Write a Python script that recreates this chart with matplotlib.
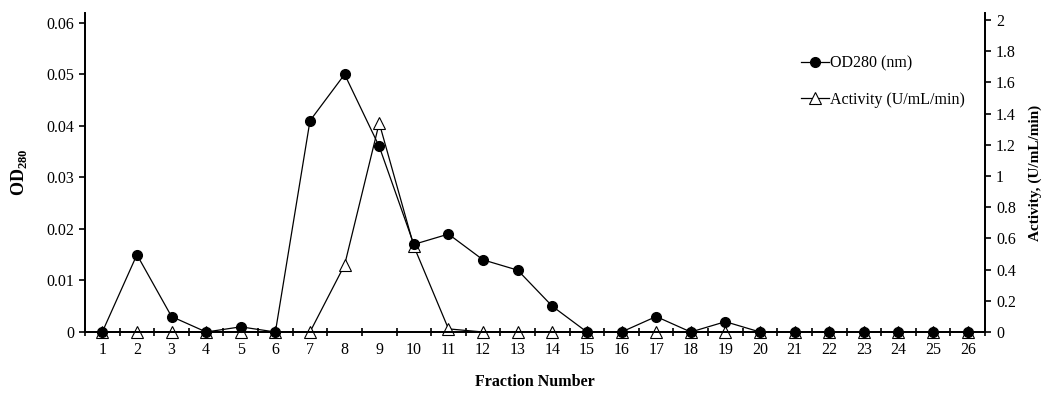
import matplotlib
matplotlib.use("Agg")
import matplotlib.pyplot as plt
import numpy as np

fractions = list(range(1, 27))
od280 = [0, 0.015, 0.003, 0, 0.001, 0, 0.041, 0.050, 0.036, 0.017, 0.019, 0.014,
         0.012, 0.005, 0, 0, 0.003, 0, 0.002, 0, 0, 0, 0, 0, 0, 0]
activity = [0, 0, 0, 0, 0, 0, 0, 0.43, 1.34, 0.55, 0.02, 0, 0, 0, 0, 0, 0, 0, 0,
            0, 0, 0, 0, 0, 0, 0]
left_ticks = [0, 0.01, 0.02, 0.03, 0.04, 0.05, 0.06]
left_labels = ["0", "0.01", "0.02", "0.03", "0.04", "0.05", "0.06"]
right_ticks = [0, 0.2, 0.4, 0.6, 0.8, 1.0, 1.2, 1.4, 1.6, 1.8, 2.0]
right_labels = ["0", "0.2", "0.4", "0.6", "0.8", "1", "1.2", "1.4", "1.6", "1.8", "2"]

plt.rcParams['font.family'] = ['Liberation Serif', 'DejaVu Serif']
plt.rcParams['mathtext.fontset'] = 'custom'
plt.rcParams['mathtext.rm'] = 'Liberation Serif'
plt.rcParams['mathtext.bf'] = 'Liberation Serif:bold'

fs = 11.5

fig = plt.figure(figsize=(10.45, 3.96), dpi=100)
ax = fig.add_axes([85/1045, 64/396, 900/1045, 319/396])
ax2 = ax.twinx()

l1, = ax.plot(fractions, od280, color='black', lw=0.9, marker='o', markersize=7,
              markerfacecolor='black', markeredgecolor='black', zorder=3,
              label='OD280 (nm)', clip_on=False)
l2, = ax2.plot(fractions, activity, color='black', lw=0.9, marker='^', markersize=8.5,
               markerfacecolor='white', markeredgecolor='black', markeredgewidth=0.8,
               label='Activity (U/mL/min)', clip_on=False)
ax.set_zorder(ax2.get_zorder() + 1)
ax.patch.set_visible(False)

ax.set_xlim(0.5, 26.5)
ax.set_ylim(0, 0.0619)
ax2.set_ylim(0, 2.045)

ax.set_xticks(fractions)
ax.set_xticklabels([str(f) for f in fractions], fontsize=fs)
ax.set_xticks(np.arange(0.5, 27, 1), minor=True)
ax.tick_params(axis='x', which='major', length=0, pad=7)
ax.tick_params(axis='x', which='minor', direction='inout', length=6, width=1.2)

ax.set_yticks(left_ticks)
ax.set_yticklabels(left_labels, fontsize=fs)
ax.tick_params(axis='y', direction='out', length=4, width=1.2, pad=4)
ax2.set_yticks(right_ticks)
ax2.set_yticklabels(right_labels, fontsize=fs)
ax2.tick_params(axis='y', direction='out', length=4, width=1.2, pad=4)

for a in (ax, ax2):
    a.spines['top'].set_visible(False)
    for s in ('left', 'right', 'bottom'):
        a.spines[s].set_linewidth(1.3)

ax.set_xlabel('Fraction Number', fontsize=fs, fontweight='bold', labelpad=12)
ax.set_ylabel(r'$\mathbf{OD}_{\mathbf{280}}$', fontsize=13, labelpad=12)
ax2.set_ylabel('Activity, (U/mL/min)', fontsize=11, fontweight='bold', labelpad=9)

leg = ax.legend(handles=[l1, l2], loc='upper left', bbox_to_anchor=(0.789, 0.888),
                frameon=False, fontsize=fs, handlelength=1.7, handletextpad=0.1,
                labelspacing=1.3, borderaxespad=0)

fig.savefig('out.png', dpi=100)
